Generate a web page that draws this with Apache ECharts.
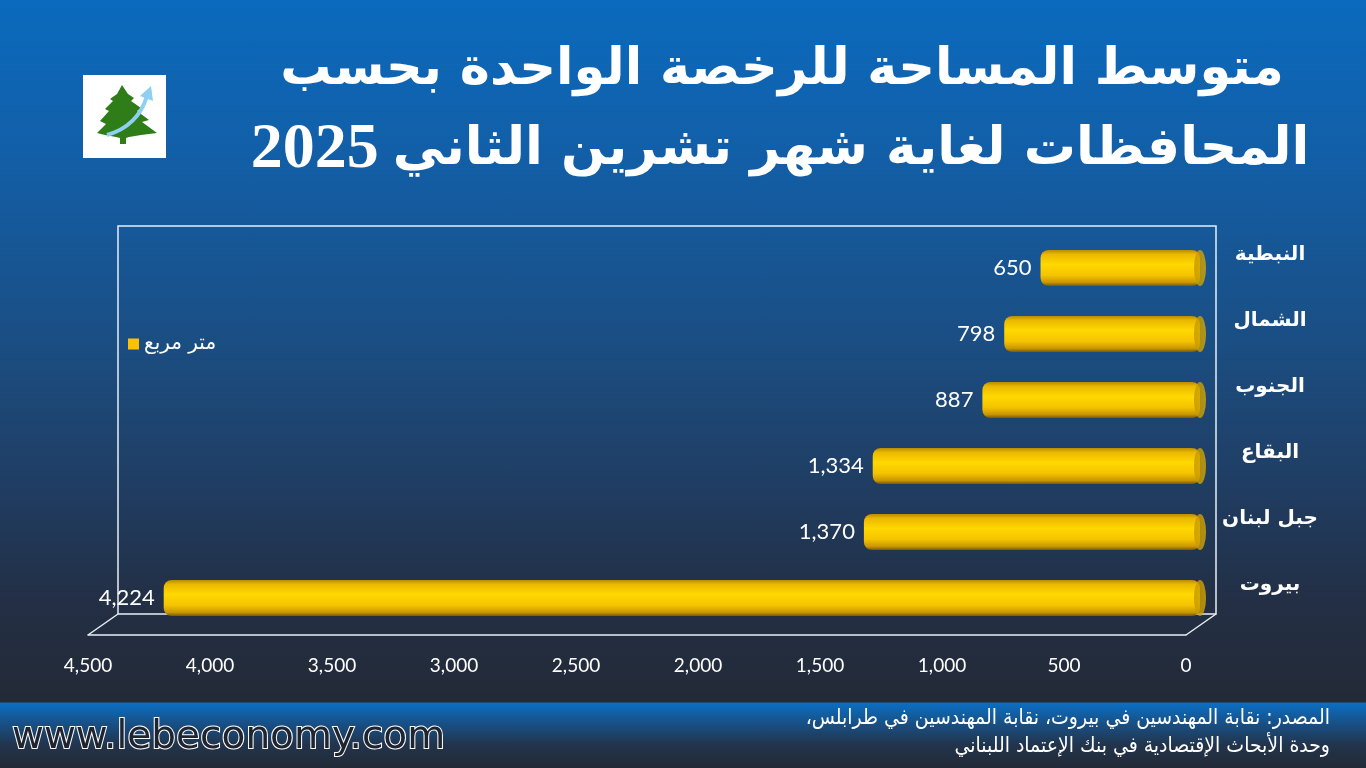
<!DOCTYPE html>
<html><head><meta charset="utf-8">
<script src="https://cdn.jsdelivr.net/npm/echarts@6/dist/echarts.min.js"></script>
<style>
html,body{margin:0;padding:0;width:1366px;height:768px;overflow:hidden;}
#bg{position:absolute;left:0;top:0;width:1366px;height:768px;
background:linear-gradient(to bottom,#0a6abd 0px,#125fa8 150px,#1a4f85 330px,#1f3f66 470px,#232f45 600px,#232a36 702px,#0b6fc3 703px,#17528a 722px,#22344c 745px,#232a36 768px);}
#c{position:absolute;left:0;top:0;width:1366px;height:768px;}
</style></head>
<body><div id="bg"></div><div id="c"></div>
<script>
const categories = ['النبطية','الشمال','الجنوب','البقاع','جبل لبنان','بيروت'];
const values = [650, 798, 887, 1334, 1370, 4224];
const seriesName = 'متر مربع';
const axisMax = 4500;
const axisStep = 500;
const titleLine1 = 'متوسط المساحة للرخصة الواحدة بحسب';
const titleLine2 = 'المحافظات لغاية شهر تشرين الثاني';
const titleYear = '2025';
const sourceLine1 = 'المصدر: نقابة المهندسين في بيروت، نقابة المهندسين في طرابلس،\u200F';
const sourceLine2 = 'وحدة الأبحاث الإقتصادية في بنك الإعتماد اللبناني';
const siteText = 'www.lebeconomy.com';

const fmt = v => Number(v).toLocaleString('en-US');
const chart = echarts.init(document.getElementById('c'), null, {renderer:'canvas'});
const numFont = "Lato, 'Open Sans', sans-serif";
const arFont = "'DejaVu Sans', sans-serif";

const option = {
  backgroundColor: 'transparent',
  animation: false,
  grid: [
    {left:96, right:166, top:235, bottom:137},
    {left:88, right:180, top:560, bottom:133},
    {left:118, right:150, top:226, bottom:154, show:true, borderColor:'#e8eef5', borderWidth:1.5, backgroundColor:'transparent'}
  ],
  legend: {
    data:[{name:seriesName, itemStyle:{color:'#ffc000'}}],
    left:123, top:329, icon:'rect', itemWidth:11, itemHeight:11, itemGap:8,
    textStyle:{color:'#ffffff', fontSize:20, fontFamily:arFont}
  },
  xAxis: [
    {gridIndex:0, type:'value', inverse:true, min:0, max:axisMax, show:false},
    {gridIndex:1, type:'value', inverse:true, min:0, max:axisMax, interval:axisStep,
     axisLine:{show:true, lineStyle:{color:'#e8eef5', width:1.5}}, axisTick:{show:false}, splitLine:{show:false},
     axisLabel:{color:'#ffffff', fontSize:19, margin:21, fontFamily:numFont, formatter:fmt}},
    {gridIndex:2, type:'value', show:false}
  ],
  yAxis: [
    {gridIndex:0, type:'category', data:categories, inverse:true, position:'right',
     axisLine:{show:false}, axisTick:{show:false}, splitLine:{show:false},
     axisLabel:{color:'#ffffff', fontSize:20, fontWeight:'bold', align:'center', verticalAlign:'bottom', lineHeight:26, margin:70,
       fontFamily:arFont}},
    {gridIndex:1, type:'value', show:false},
    {gridIndex:2, type:'value', show:false}
  ],
  series: [
    {name:seriesName, type:'bar', xAxisIndex:0, yAxisIndex:0, data:values, barWidth:36,
     itemStyle:{borderRadius:8, color:new echarts.graphic.LinearGradient(0,0,0,1,[
       {offset:0,color:'#b88c00'},{offset:0.12,color:'#eab800'},{offset:0.4,color:'#ffd800'},
       {offset:0.7,color:'#f5c400'},{offset:0.9,color:'#c99700'},{offset:1,color:'#7a5a00'}])},
     label:{show:true, position:'left', distance:9, color:'#ffffff', fontSize:22, fontFamily:numFont, formatter:p=>fmt(p.value)},
     z:2},
    {name:'cap', type:'scatter', xAxisIndex:0, yAxisIndex:0, data:categories.map(c=>[0,c]),
     symbol:'circle', symbolSize:[12,36], silent:true,
     itemStyle:{color:new echarts.graphic.LinearGradient(0,0,1,0,[{offset:0,color:'#c39600'},{offset:1,color:'#d8a900'}])}, z:3}
  ],
  graphic: [
    {type:'line', shape:{x1:88,y1:635,x2:118,y2:614}, style:{stroke:'#e8eef5', lineWidth:1.5}},
    {type:'line', shape:{x1:1186,y1:635,x2:1216,y2:614}, style:{stroke:'#e8eef5', lineWidth:1.5}},
    {type:'text', x:782, y:71, style:{text:titleLine1, fill:'#ffffff', font:"bold 51px 'DejaVu Sans', sans-serif", textAlign:'center', textVerticalAlign:'middle'}},
    {type:'text', x:780, y:150, style:{
      text:'{y|' + titleYear + '}{s| }{a|' + titleLine2 + '}',
      textAlign:'center', textVerticalAlign:'middle', fill:'#ffffff',
      rich:{
        y:{fill:'#ffffff', font:"bold 64px 'Liberation Serif', serif"},
        s:{fill:'#ffffff', font:"bold 56px 'Liberation Serif', serif"},
        a:{fill:'#ffffff', font:"bold 52px 'DejaVu Sans', sans-serif"}
      }}},
    {type:'rect', shape:{x:83,y:75,width:83,height:83}, style:{fill:'#ffffff'}},
    {type:'polygon', shape:{points:[[122,85],[128,94],[134,98],[131,101],[141,108],[137,111],[149,120],[142,122],[157,133],[141,135],[129,137],[126,138],[126,144],[120,144],[120,138],[116,137],[105,135],[97,133],[106,124],[100,121],[109,111],[105,109],[113,101],[110,99],[117,94]]}, style:{fill:'#2e7d18'}},
    {type:'bezierCurve', shape:{x1:107,y1:135,x2:147,y2:96,cpx1:138,cpy1:126}, style:{stroke:'#8fd0f2', lineWidth:4, fill:null}},
    {type:'polygon', shape:{points:[[151,86],[140,96],[153,101]]}, style:{fill:'#8fd0f2'}},
    {type:'text', x:12, y:738, style:{text:siteText, fill:'#1e2430', stroke:'#ffffff', lineWidth:2, font:"39px 'DejaVu Sans', sans-serif", textAlign:'left', textVerticalAlign:'middle'}},
    {type:'text', x:1330, y:719, style:{text:sourceLine1, fill:'#ffffff', font:"21px 'DejaVu Sans Condensed', 'DejaVu Sans', sans-serif", textAlign:'right', textVerticalAlign:'middle'}},
    {type:'text', x:1330, y:747, style:{text:sourceLine2, fill:'#ffffff', font:"21px 'DejaVu Sans Condensed', 'DejaVu Sans', sans-serif", textAlign:'right', textVerticalAlign:'middle'}}
  ]
};
chart.setOption(option);
</script></body></html>
